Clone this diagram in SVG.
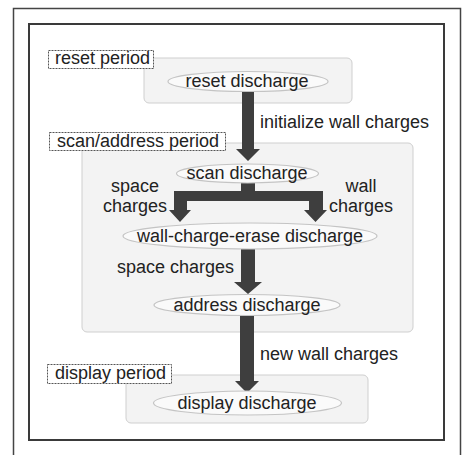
<svg xmlns="http://www.w3.org/2000/svg" width="464" height="455" viewBox="0 0 464 455">
<style>
text{font-family:"Liberation Sans",Arial,sans-serif;font-size:18px;fill:#222}
.mid{text-anchor:middle}
.period{fill:#f3f3f3;stroke:#cfcfcf;stroke-width:1}
.label{fill:#fff;stroke:#555;stroke-width:1;stroke-dasharray:2,1}
.oval{fill:#fafafa;stroke:#c4c4c4;stroke-width:1.2}
.arrow{fill:#3e3e3e}
</style>
<rect width="464" height="455" fill="#fff"/>
<g id="frame" fill="none">
<rect x="13.5" y="8.5" width="447" height="460" stroke="#444" stroke-width="1.5"/>
<rect x="29" y="24" width="415" height="416" stroke="#3a3a3a" stroke-width="2"/>
</g>
<g id="reset-period">
<rect class="period" x="144" y="58" width="208" height="45" rx="5"/>
<rect class="label" x="48.5" y="50.5" width="105" height="18"/>
<text x="55" y="64">reset period</text>
</g>
<g id="scan-address-period">
<rect class="period" x="82" y="143" width="331" height="189" rx="5"/>
<rect class="label" x="49.5" y="132.5" width="176" height="18"/>
<text x="57" y="147">scan/address period</text>
</g>
<g id="display-period">
<rect class="period" x="126" y="375" width="242" height="48" rx="5"/>
<rect class="label" x="47.5" y="364.5" width="124" height="19"/>
<text x="55" y="379">display period</text>
</g>
<g id="connectors">
<path class="arrow" d="M242,91H254V149H260L248,161L236,149H242Z"/>
<path class="arrow" d="M241,182H255V191H323V210H327L315.5,222L304,210H309V201H187V210H191L180,222L169,210H174V191H241Z"/>
<path class="arrow" d="M241,249H255V282H262L248,294L234,282H241Z"/>
<path class="arrow" d="M240,316H254V381H259L247,393L235,381H240Z"/>
<text x="260" y="128">initialize wall charges</text>
<text class="mid" x="135" y="192">space</text>
<text class="mid" x="135" y="212">charges</text>
<text class="mid" x="361" y="192">wall</text>
<text class="mid" x="361" y="212">charges</text>
<text x="117" y="273">space charges</text>
<text x="260" y="360">new wall charges</text>
</g>
<g id="reset-discharge">
<ellipse class="oval" cx="248" cy="81.5" rx="80" ry="10"/>
<text class="mid" x="247" y="87">reset discharge</text>
</g>
<g id="scan-discharge">
<ellipse class="oval" cx="247.5" cy="173.5" rx="71" ry="9.5"/>
<text class="mid" x="247" y="179">scan discharge</text>
</g>
<g id="wall-charge-erase-discharge">
<ellipse class="oval" cx="250" cy="236" rx="127" ry="13"/>
<text class="mid" x="250" y="242">wall-charge-erase discharge</text>
</g>
<g id="address-discharge">
<ellipse class="oval" cx="247" cy="305" rx="93" ry="10.5"/>
<text class="mid" x="247" y="311">address discharge</text>
</g>
<g id="display-discharge">
<ellipse class="oval" cx="247.5" cy="403" rx="94" ry="12"/>
<text class="mid" x="247" y="409">display discharge</text>
</g>
</svg>
